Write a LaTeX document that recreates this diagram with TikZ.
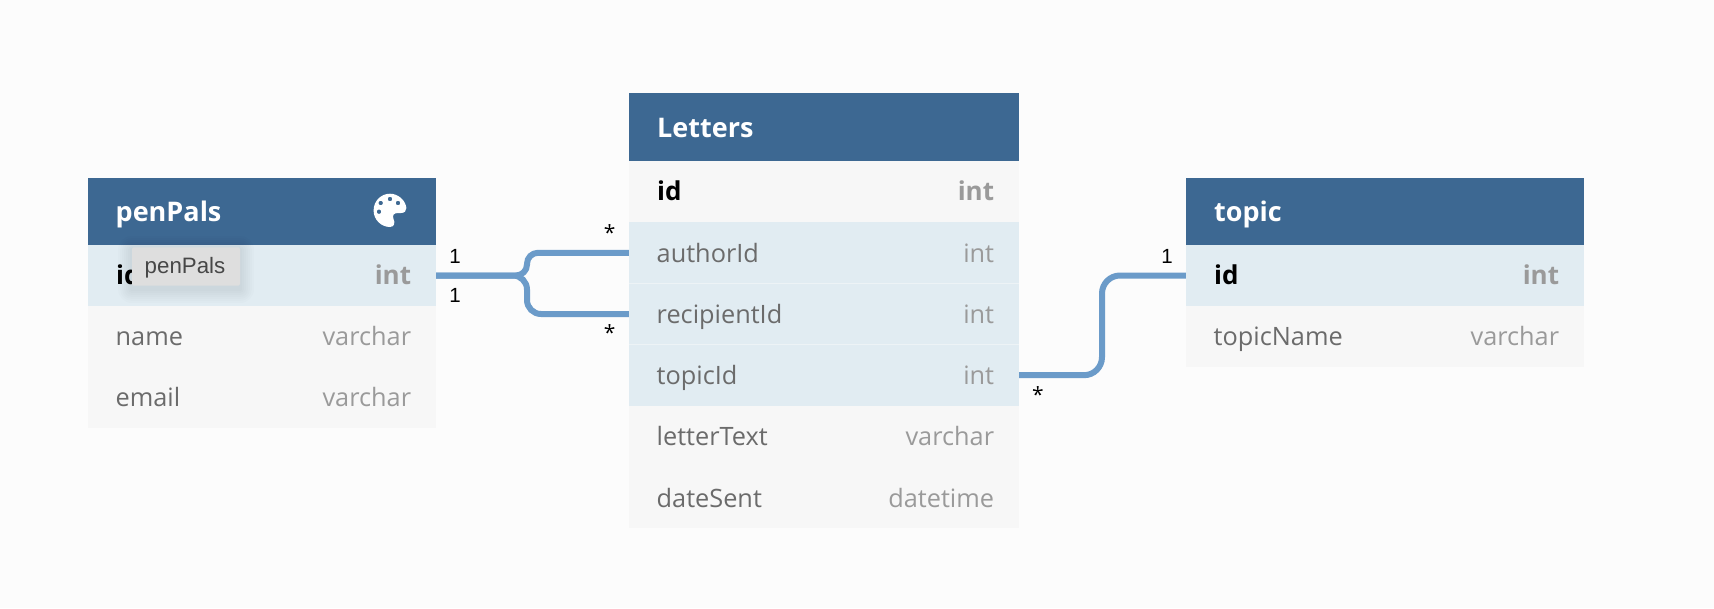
\documentclass[tikz,border=0pt]{standalone}
\usepackage{fontspec}
\setmainfont{Open Sans}
\newfontfamily\tipfont{Liberation Sans}
\definecolor{Page}{RGB}{252,252,252}
\definecolor{Head}{RGB}{61,104,146}
\definecolor{Plain}{RGB}{247,247,247}
\definecolor{Key}{RGB}{225,236,242}
\definecolor{Rel}{RGB}{107,155,201}
\definecolor{Fld}{RGB}{107,107,107}
\definecolor{Typ}{RGB}{154,154,154}
\tikzset{
  head/.style={fill=Head},
  plainrow/.style={fill=Plain, inner sep=0pt},
  keyrow/.style={fill=Key, inner sep=0pt},
  sepline/.style={line width=1pt, Page, opacity=0.45},
  title/.style={anchor=base west, inner sep=0pt, white, font=\fontsize{27}{27}\selectfont\bfseries},
  fld/.style={anchor=base west, inner sep=0pt, Fld, font=\fontsize{25.3}{25.3}\selectfont},
  typ/.style={anchor=base east, inner sep=0pt, Typ, font=\fontsize{25.3}{25.3}\selectfont},
  pk/.style={anchor=base west, inner sep=0pt, black, font=\fontsize{26}{26}\selectfont\bfseries},
  pktyp/.style={anchor=base east, inner sep=0pt, Typ, font=\fontsize{26}{26}\selectfont\bfseries},
  relline/.style={line width=6pt, Rel, rounded corners=#1},
  card/.style={anchor=base, inner sep=0pt, black, font=\tipfont\fontsize{20.5}{20.5}\selectfont},
  cardstar/.style={anchor=base, inner sep=0pt, black, font=\fontsize{21}{21}\selectfont},
  tooltip/.style={fill=black!13, rounded corners=1.5pt, inner sep=0pt, text=black!72,
     text height=17pt, text depth=3.4pt,
     font=\tipfont\fontsize{22.3}{22.3}\selectfont},
}
\begin{document}
\begin{tikzpicture}[x=1pt, y=-1pt]
  \fill[Page] (0,0) rectangle (1714,608);
  \useasboundingbox (0,0) rectangle (1714,608);
  % penPals
  \path[head] (88,178) rectangle (436,245);
  \node[keyrow, minimum width=348pt, minimum height=61pt] (penPalsId) at (262,275.5) {};
  \node[plainrow, minimum width=348pt, minimum height=61pt] (penPalsName) at (262,336.5) {};
  \node[plainrow, minimum width=348pt, minimum height=61pt] (penPalsEmail) at (262,397.5) {};
  \node[title] (penPalsTitle) at (115.5,221) {penPals};
  \node[pk] (penPalsIdL) at (116,284.6) {id};
  \node[pktyp] (penPalsIdT) at (411.3,284.6) {int};
  \node[fld] (penPalsNameL) at (115.5,345.7) {name};
  \node[typ] (penPalsNameT) at (411.3,345.7) {varchar};
  \node[fld] (penPalsEmailL) at (115.5,406.7) {email};
  \node[typ] (penPalsEmailT) at (411.3,406.7) {varchar};
  % palette
  \fill[white, even odd rule] (390,193.7) .. controls (381,193.7) and (373.6,201) .. (373.6,210.5)
     .. controls (373.6,219.5) and (381,227) .. (390,227)
     .. controls (395,227) and (395,222) .. (393.5,219)
     .. controls (392,215) and (394,213) .. (398,213) -- (401,213)
     .. controls (404.5,213) and (406.4,211) .. (406.4,208)
     .. controls (405.4,200) and (398,193.7) .. (390,193.7) -- cycle
     (379,211.7) circle (2.3) (380.7,203) circle (2.3) (390,199) circle (2.3) (398,203) circle (2.3);
  % tooltip shadow
  \foreach \s in {2,4,...,14}
    \fill[black, opacity=0.012, rounded corners=\s pt] (132-\s,247+3-\s) rectangle (240+\s,286+3+\s);
  \node[tooltip, minimum width=108pt, minimum height=38.4pt] (penPalsTip) at (186,266.5) {\hspace{-2pt}penPals};
  % Letters
  \path[head] (629,93) rectangle (1019,161);
  \node[plainrow, minimum width=390pt, minimum height=61.2pt] (lettersId) at (824,191.6) {};
  \node[keyrow, minimum width=390pt, minimum height=61.2pt] (authorId) at (824,252.8) {};
  \node[keyrow, minimum width=390pt, minimum height=61.2pt] (recipientId) at (824,314) {};
  \node[keyrow, minimum width=390pt, minimum height=61.2pt] (topicId) at (824,375.2) {};
  \node[plainrow, minimum width=390pt, minimum height=61.2pt] (letterText) at (824,436.4) {};
  \node[plainrow, minimum width=390pt, minimum height=61.2pt] (dateSent) at (824,497.6) {};
  \draw[sepline] (authorId.south west) -- (authorId.south east);
  \draw[sepline] (recipientId.south west) -- (recipientId.south east);
  \node[title] (lettersTitle) at (657,137) {Letters};
  \node[pk] (lettersIdL) at (657,200.5) {id};
  \node[pktyp] (lettersIdT) at (994.3,200.5) {int};
  \node[fld] (authorIdL) at (656.5,262.3) {authorId};
  \node[typ] (authorIdT) at (994.3,262.3) {int};
  \node[fld] (recipientIdL) at (656.5,323.5) {recipientId};
  \node[typ] (recipientIdT) at (994.3,323.5) {int};
  \node[fld] (topicIdL) at (656.5,384.7) {topicId};
  \node[typ] (topicIdT) at (994.3,384.7) {int};
  \node[fld] (letterTextL) at (656.5,445.9) {letterText};
  \node[typ] (letterTextT) at (994.3,445.9) {varchar};
  \node[fld] (dateSentL) at (656.5,507.1) {dateSent};
  \node[typ] (dateSentT) at (994.3,507.1) {datetime};
  % topic
  \path[head] (1186,178) rectangle (1584,245);
  \node[keyrow, minimum width=398pt, minimum height=61pt] (topicPk) at (1385,275.5) {};
  \node[plainrow, minimum width=398pt, minimum height=61pt] (topicName) at (1385,336.5) {};
  \node[title] (topicTitle) at (1214,221) {topic};
  \node[pk] (topicPkL) at (1214,284.6) {id};
  \node[pktyp] (topicPkT) at (1559.3,284.6) {int};
  \node[fld] (topicNameL) at (1213.5,345.7) {topicName};
  \node[typ] (topicNameT) at (1559.3,345.7) {varchar};
  % relations
  \coordinate (fork) at (527,275.5);
  \coordinate (jog) at (1102,375.2);
  \draw[relline=11] (penPalsId.east) -- (fork) |- (authorId.west);
  \draw[relline=14] (penPalsId.east) -- (fork) |- (recipientId.west);
  \draw[relline=18] (topicId.east) -- (jog) |- (topicPk.west);
  \node[card] (oneA) at (455,263) {1};
  \node[card] (oneB) at (455,302.3) {1};
  \node[cardstar] (manyA) at (609.7,240.8) {*};
  \node[cardstar] (manyB) at (609.7,340.8) {*};
  \node[cardstar] (manyC) at (1038,402.4) {*};
  \node[card] (oneC) at (1167,263) {1};
\end{tikzpicture}
\end{document}
